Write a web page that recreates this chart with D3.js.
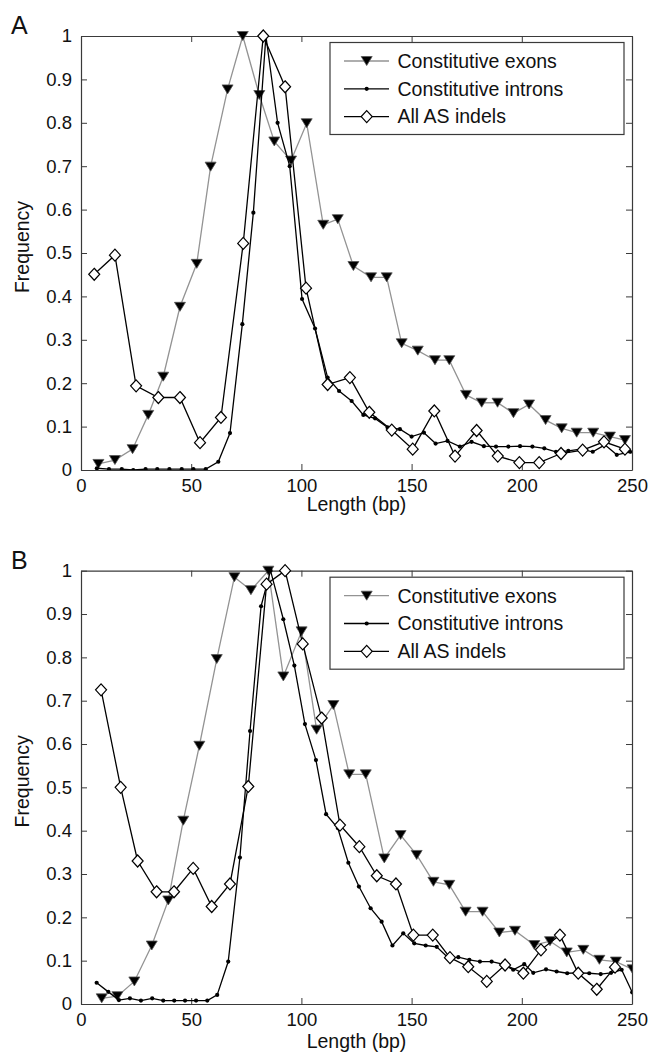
<!DOCTYPE html>
<html>
<head>
<meta charset="utf-8">
<script src="https://cdn.jsdelivr.net/npm/d3@7"></script>
<style>
  html, body { margin: 0; padding: 0; background: #fff; }
  svg { display: block; }
  text { font-family: "Liberation Sans", Arial, Helvetica, sans-serif; fill: #111; }
</style>
</head>
<body>
<svg id="chart" width="650" height="1062"></svg>
<script>
// ---------- Data ----------
const xTicks = [0, 50, 100, 150, 200, 250];
const yTicks = [0, 0.1, 0.2, 0.3, 0.4, 0.5, 0.6, 0.7, 0.8, 0.9, 1];
const seriesNames = ["Constitutive exons", "Constitutive introns", "All AS indels"];
const panelLabels = ["A", "B"];

// Panel A
const exonX_A = [7.9, 15.4, 23.4, 30.5, 37.3, 44.9, 52.5, 58.8, 66.5, 73.4, 80.9, 87.7, 95.3, 102.4, 109.9, 116.5, 123.6, 131.6, 138.7, 145.5, 152.8, 160.6, 167.1, 174.7, 181.8, 189.0, 196.2, 203.3, 210.8, 218.1, 224.9, 232.4, 240.0, 246.8];
const exonY_A = [0.014, 0.023, 0.048, 0.127, 0.215, 0.376, 0.475, 0.699, 0.877, 1.0, 0.864, 0.757, 0.713, 0.799, 0.565, 0.578, 0.470, 0.444, 0.444, 0.292, 0.275, 0.253, 0.253, 0.173, 0.155, 0.155, 0.131, 0.151, 0.115, 0.096, 0.086, 0.086, 0.077, 0.069];

const intronX_A = [7.2, 12.7, 18.5, 23.7, 29.3, 34.6, 40.1, 45.7, 51.0, 56.6, 62.3, 67.6, 73.2, 78.2, 83.9, 89.2, 94.7, 100.3, 106.2, 111.9, 117.1, 122.8, 128.1, 133.4, 139.1, 144.7, 150.0, 155.6, 160.9, 166.3, 171.9, 177.2, 182.8, 188.3, 193.9, 199.2, 204.8, 210.2, 215.5, 221.1, 226.7, 232.2, 237.7, 243.1, 249.1];
const intronY_A = [0.004, 0.002, 0.002, 0.0, 0.002, 0.002, 0.002, 0.002, 0.002, 0.002, 0.019, 0.085, 0.336, 0.593, 1.0, 0.800, 0.70, 0.394, 0.326, 0.213, 0.182, 0.159, 0.127, 0.119, 0.098, 0.094, 0.077, 0.086, 0.061, 0.067, 0.054, 0.065, 0.055, 0.054, 0.054, 0.055, 0.054, 0.050, 0.042, 0.044, 0.048, 0.042, 0.058, 0.035, 0.042];

const indelX_A = [6.0, 15.4, 25.0, 35.1, 44.9, 54.0, 63.5, 73.6, 82.7, 92.6, 102.1, 111.9, 122.0, 130.8, 141.0, 150.5, 160.3, 169.7, 179.5, 189.1, 198.9, 207.9, 217.8, 227.6, 237.3, 246.8];
const indelY_A = [0.451, 0.495, 0.194, 0.167, 0.167, 0.063, 0.121, 0.522, 1.0, 0.883, 0.419, 0.197, 0.213, 0.133, 0.092, 0.048, 0.136, 0.032, 0.091, 0.032, 0.017, 0.017, 0.038, 0.046, 0.065, 0.048];

// Panel B
const exonX_B = [9.4, 16.5, 24.2, 32.1, 39.6, 46.4, 53.7, 61.6, 69.6, 77.1, 85.0, 91.8, 100.1, 106.9, 114.5, 121.7, 129.2, 137.6, 145.0, 152.3, 159.9, 167.1, 174.5, 182.2, 189.8, 196.9, 205.7, 212.8, 220.4, 227.9, 235.2, 242.7, 250.3];
const exonY_B = [0.013, 0.018, 0.052, 0.135, 0.239, 0.423, 0.596, 0.796, 0.985, 0.955, 1.0, 0.756, 0.860, 0.633, 0.690, 0.530, 0.530, 0.336, 0.390, 0.344, 0.282, 0.275, 0.213, 0.213, 0.165, 0.169, 0.136, 0.145, 0.119, 0.125, 0.102, 0.098, 0.080];

const intronX_B = [7.1, 12.4, 17.2, 22.2, 27.2, 32.3, 37.3, 42.3, 47.2, 52.2, 57.3, 61.8, 66.8, 72.1, 76.7, 81.7, 86.0, 91.8, 96.8, 101.6, 106.6, 111.2, 116.5, 121.3, 126.1, 131.4, 136.4, 141.3, 146.2, 151.2, 156.4, 161.4, 166.7, 171.2, 176.2, 181.0, 186.3, 191.3, 196.1, 201.1, 205.2, 211.0, 215.8, 220.6, 225.6, 230.6, 235.8, 240.5, 245.3, 250.1];
const intronY_B = [0.049, 0.028, 0.009, 0.013, 0.008, 0.013, 0.008, 0.008, 0.008, 0.008, 0.008, 0.021, 0.098, 0.338, 0.630, 0.918, 1.0, 0.888, 0.781, 0.646, 0.563, 0.438, 0.406, 0.326, 0.271, 0.221, 0.190, 0.135, 0.163, 0.140, 0.135, 0.132, 0.106, 0.108, 0.102, 0.098, 0.098, 0.092, 0.079, 0.092, 0.072, 0.080, 0.075, 0.071, 0.072, 0.071, 0.069, 0.072, 0.079, 0.027];

const indelX_B = [9.1, 18.0, 25.7, 34.3, 42.2, 50.9, 59.3, 67.6, 75.9, 84.2, 92.6, 100.6, 109.2, 117.5, 126.3, 134.2, 142.9, 150.8, 159.6, 167.4, 175.7, 184.1, 192.4, 200.7, 208.7, 217.3, 225.6, 234.0, 242.3];
const indelY_B = [0.725, 0.500, 0.330, 0.259, 0.259, 0.313, 0.225, 0.277, 0.502, 0.969, 1.0, 0.831, 0.660, 0.413, 0.363, 0.296, 0.277, 0.159, 0.159, 0.107, 0.086, 0.052, 0.090, 0.071, 0.125, 0.159, 0.071, 0.034, 0.085];

// ---------- Drawing ----------
const svg = d3.select("#chart");
const X0 = 81, X1 = 632;
const panels = [
  { label: panelLabels[0], top: 36, bottom: 470, xLabelOff: 41,
    series: [[exonX_A, exonY_A], [intronX_A, intronY_A], [indelX_A, indelY_A]] },
  { label: panelLabels[1], top: 570.7, bottom: 1004, xLabelOff: 44,
    series: [[exonX_B, exonY_B], [intronX_B, intronY_B], [indelX_B, indelY_B]] }
];

const axisColor = "#3a3a3a";
const exonColor = "#939393";
const triPath = (w, h) => `M${-w/2},${-h/2}L${w/2},${-h/2}L0,${h/2}Z`;
const diaPath = (w, h) => `M0,${-h/2}L${w/2},0L0,${h/2}L${-w/2},0Z`;
const yFmt = d => (d === 0 ? "0" : d === 1 ? "1" : d.toFixed(1));

panels.forEach((p, pi) => {
  const x = d3.scaleLinear().domain([0, 250]).range([X0, X1]);
  const y = d3.scaleLinear().domain([0, 1]).range([p.bottom, p.top]);
  const g = svg.append("g");

  const clipId = "clip" + pi;
  svg.append("defs").append("clipPath").attr("id", clipId)
    .append("rect").attr("x", X0).attr("y", p.top - 8).attr("width", X1 - X0).attr("height", p.bottom - p.top + 8);

  const styleAxis = sel => {
    sel.selectAll(".domain").attr("stroke", axisColor).attr("stroke-width", 1.2);
    sel.selectAll(".tick line").attr("stroke", axisColor).attr("stroke-width", 1);
    sel.selectAll(".tick text").style("font-family", '"Liberation Sans", Arial, sans-serif')
      .style("font-size", "18.5px").attr("fill", "#111");
  };
  g.append("g").attr("transform", `translate(0,${p.bottom})`)
    .call(d3.axisBottom(x).tickValues(xTicks).tickSizeInner(-6).tickSizeOuter(0).tickPadding(9).tickFormat(d3.format("d")))
    .call(styleAxis);
  g.append("g").attr("transform", `translate(0,${p.top})`)
    .call(d3.axisTop(x).tickValues(xTicks).tickSizeInner(-6).tickSizeOuter(0).tickFormat(""))
    .call(styleAxis);
  g.append("g").attr("transform", `translate(${X0},0)`)
    .call(d3.axisLeft(y).tickValues(yTicks).tickSizeInner(-6).tickSizeOuter(0).tickPadding(9).tickFormat(yFmt))
    .call(styleAxis);
  g.append("g").attr("transform", `translate(${X1},0)`)
    .call(d3.axisRight(y).tickValues(yTicks).tickSizeInner(-6).tickSizeOuter(0).tickFormat(""))
    .call(styleAxis);

  g.append("text").attr("x", (X0 + X1) / 2).attr("y", p.bottom + p.xLabelOff)
    .attr("text-anchor", "middle").style("font-size", "19.5px").text("Length (bp)");
  g.append("text").attr("transform", `translate(29,${(p.top + p.bottom) / 2 - 6}) rotate(-90)`)
    .attr("text-anchor", "middle").style("font-size", "19.5px").text("Frequency");
  g.append("text").attr("x", 11).attr("y", p.top - 2)
    .style("font-size", "25px").text(p.label);

  const line = d3.line().x(d => x(d[0])).y(d => y(d[1]));
  const toPts = (xs, ys) => xs.map((v, i) => [v, ys[i]]);
  const data = p.series.map(s => toPts(s[0], s[1]));
  const plot = g.append("g").attr("clip-path", `url(#${clipId})`);

  plot.append("path").datum(data[0]).attr("d", line)
    .attr("fill", "none").attr("stroke", exonColor).attr("stroke-width", 1.3);
  plot.selectAll(".tri").data(data[0]).join("path").attr("class", "tri")
    .attr("transform", d => `translate(${x(d[0])},${y(d[1])})`)
    .attr("d", triPath(11, 9)).attr("fill", "#000").attr("stroke", "#555").attr("stroke-width", 0.8);

  plot.append("path").datum(data[1]).attr("d", line)
    .attr("fill", "none").attr("stroke", "#000").attr("stroke-width", 1.3);
  plot.selectAll(".dot").data(data[1]).join("circle").attr("class", "dot")
    .attr("cx", d => x(d[0])).attr("cy", d => y(d[1])).attr("r", 2.1).attr("fill", "#000");

  plot.append("path").datum(data[2]).attr("d", line)
    .attr("fill", "none").attr("stroke", "#000").attr("stroke-width", 1.3);
  plot.selectAll(".dia").data(data[2]).join("path").attr("class", "dia")
    .attr("transform", d => `translate(${x(d[0])},${y(d[1])})`)
    .attr("d", diaPath(11, 12)).attr("fill", "#fff").attr("stroke", "#000").attr("stroke-width", 1.2);

  const lx = 330, ly = p.top + 6.5, lw = 294, lh = 92;
  const lg = g.append("g");
  lg.append("rect").attr("x", lx).attr("y", ly).attr("width", lw).attr("height", lh)
    .attr("fill", "#fff").attr("stroke", axisColor).attr("stroke-width", 1.2);
  seriesNames.forEach((name, i) => {
    const cy = ly + 18.5 + i * 27.8;
    lg.append("line").attr("x1", 344).attr("x2", 389).attr("y1", cy).attr("y2", cy)
      .attr("stroke", i === 0 ? exonColor : "#000").attr("stroke-width", 1.3);
    if (i === 0) {
      lg.append("path").attr("transform", `translate(366.7,${cy})`).attr("d", triPath(11, 9))
        .attr("fill", "#000").attr("stroke", "#555").attr("stroke-width", 0.8);
    } else if (i === 1) {
      lg.append("circle").attr("cx", 366.7).attr("cy", cy).attr("r", 2.1).attr("fill", "#000");
    } else {
      lg.append("path").attr("transform", `translate(366.7,${cy})`).attr("d", diaPath(11, 12))
        .attr("fill", "#fff").attr("stroke", "#000").attr("stroke-width", 1.2);
    }
    lg.append("text").attr("x", 397.5).attr("y", cy).attr("dy", "0.35em")
      .style("font-size", "19.5px").text(name);
  });
});
</script>
</body>
</html>
